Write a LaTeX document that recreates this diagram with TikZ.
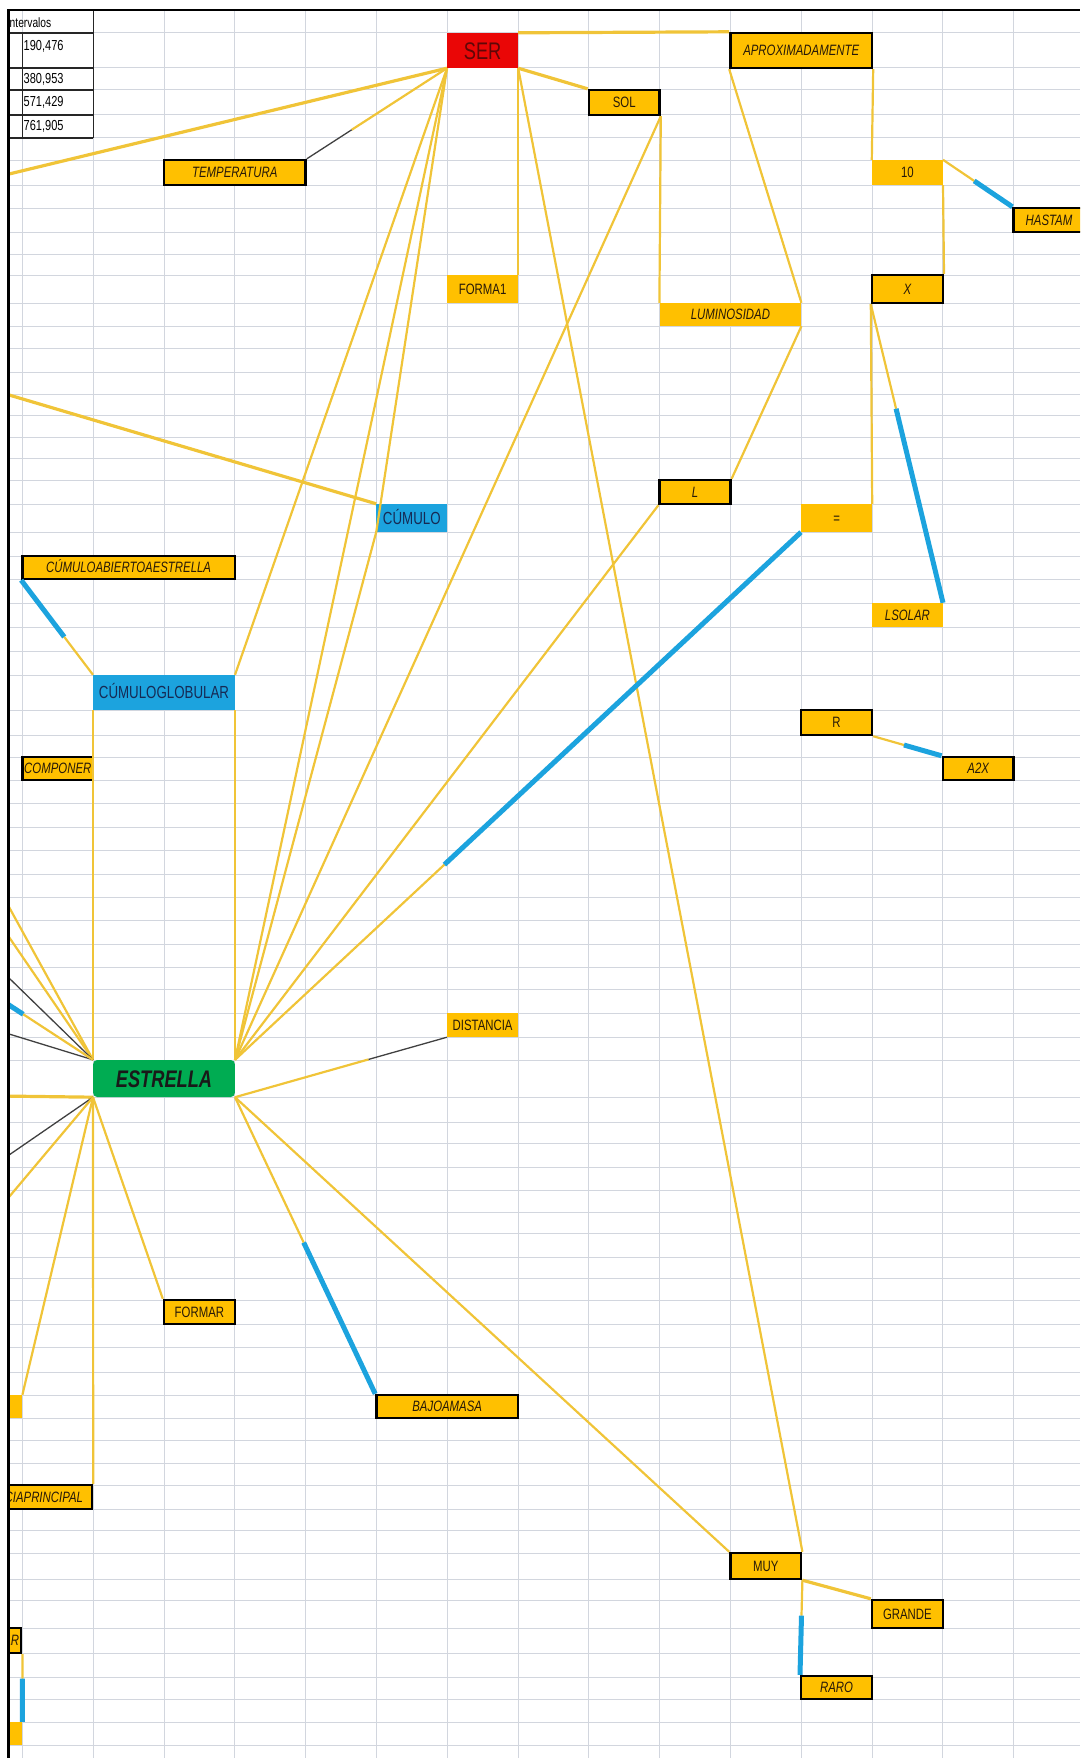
\documentclass[tikz,border=0pt]{standalone}
\usepackage{fontspec}
\setmainfont[FakeStretch=0.76]{Liberation Sans}
\usetikzlibrary{calc}

\definecolor{amarillo}{RGB}{255,192,0}
\definecolor{lineaY}{RGB}{240,196,56}
\definecolor{azul}{RGB}{28,163,222}
\definecolor{verde}{RGB}{0,172,82}
\definecolor{rojo}{RGB}{234,6,6}
\definecolor{rejilla}{RGB}{210,214,222}
\definecolor{tinta}{RGB}{40,26,8}
\definecolor{marino}{RGB}{22,42,84}
\definecolor{granate}{RGB}{96,6,6}

\newcommand{\partida}[5]{%
	\draw[#4] (#1) -- ($(#1)!#3!(#2)$);
	\draw[#5] ($(#1)!#3!(#2)$) -- (#2);
}

\tikzset{
	celda/.style={inner sep=0pt, text=tinta, text height=10.7pt, text depth=0pt,
		font={\fontsize{15}{15}\selectfont}},
	cajaA/.style={celda, fill=amarillo, draw=black, line width=2.4pt},
	cajaB/.style={celda, fill=amarillo},
	cajaC/.style={celda, fill=azul, text=marino, text height=12.5pt,
		font={\fontsize{17.5}{17.5}\selectfont}},
	cajaR/.style={celda, fill=rojo, text=granate, text height=17.2pt,
		font={\fontsize{24}{24}\selectfont}},
	cajaV/.style={celda, fill=verde, rounded corners=4pt, text=black!90, text height=17.2pt,
		font={\fontsize{24}{24}\selectfont\bfseries\itshape}},
	cursiva/.style={font={\fontsize{15}{15}\selectfont\itshape}},
	medida/.style 2 args={minimum width=#1, minimum height=#2},
	tabla/.style={inner sep=0pt, text=black, font={\fontsize{14.5}{14.5}\selectfont}},
	lineA/.style={draw=lineaY, line width=2.2pt},
	lineG/.style={draw=lineaY, line width=3.2pt},
	lineB/.style={draw=azul, line width=5pt},
	lineK/.style={draw=black!75, line width=1.3pt},
}

\begin{document}
\begin{tikzpicture}[x=1pt, y=-1pt]
\useasboundingbox (0,0) rectangle (1080,1758);
\begin{scope}
\clip (9,10) rectangle (1080,1758);
% rejilla de la hoja
\foreach \k in {0,...,14}
	\draw[rejilla, line width=1pt] ({22.4+70.8*\k},10) -- ({22.4+70.8*\k},1758);
\foreach \y in {33,68,90,115,138,160,185,208,232,254,275,303,326,348,372,394,415,437,458,480,504,532,556,579,603,627,651,675,710,735,757,780,803,827,850,874,897,920,944,967,989,1013,1037,1060,1097,1122,1143,1167,1190,1212,1233,1257,1278,1300,1324,1347,1372,1395,1418,1440,1463,1485,1509,1530,1553,1579,1600,1628,1653,1677,1699,1722,1745}
	\draw[rejilla, line width=1pt] (9,\y) -- (1080,\y);

% tabla de intervalos
\draw[black!85, line width=1.4pt] (93.2,10) -- (93.2,138) (22.4,33) -- (22.4,138);
\foreach \y in {33,68,90,115,138}
	\draw[black!85, line width=1.4pt] (9,\y) -- (93.2,\y);
\node[tabla, anchor=west, font={\fontsize{13.5}{13.5}\selectfont}] (int0) at (9.5,23) {ntervalos};
\node[tabla, anchor=west] (int1) at (23.5,46) {190,476};
\node[tabla, anchor=west] (int2) at (23.5,79) {380,953};
\node[tabla, anchor=west] (int3) at (23.5,102.5) {571,429};
\node[tabla, anchor=west] (int4) at (23.5,126.5) {761,905};

% celdas
\node[cajaR, medida={70.8}{35}] (ser) at (482.6,50.5) {SER};
\node[cajaA, cursiva, medida={141.6}{35}] (aprox) at (801.2,50.5) {APROXIMADAMENTE};
\node[cajaA, medida={70.8}{25}] (sol) at (624.2,102.5) {SOL};
\node[cajaA, cursiva, medida={141.6}{25}] (temp) at (234.8,172.5) {TEMPERATURA};
\node[cajaB, medida={70.8}{25}] (diez) at (907.4,172.5) {10};
\node[cajaA, cursiva, medida={70.8}{24}] (hastam) at (1049,220) {HASTAM};
\node[cajaB, medida={70.8}{28}] (forma) at (482.6,289) {FORMA1};
\node[cajaA, cursiva, medida={70.8}{28}] (equis) at (907.4,289) {X};
\node[cajaB, cursiva, medida={141.6}{23}] (lumin) at (730.4,314.5) {LUMINOSIDAD};
\node[cajaA, cursiva, medida={70.8}{24}] (ele) at (695,492) {L};
\node[cajaB, medida={70.8}{28}] (igual) at (836.6,518) {=};
\node[cajaC, medida={70.8}{28}] (cumulo) at (411.8,518) {CÚMULO};
\node[cajaA, cursiva, medida={212.4}{23}] (cae) at (128.6,567.5) {CÚMULOABIERTOAESTRELLA};
\node[cajaB, cursiva, medida={70.8}{24}] (lsolar) at (907.4,615) {LSOLAR};
\node[cajaC, medida={141.6}{35}] (cglob) at (164,692.5) {CÚMULOGLOBULAR};
\node[cajaA, medida={70.8}{25}] (erre) at (836.6,722.5) {R};
\node[cajaA, cursiva, medida={70.8}{23}] (componer) at (57.8,768.5) {COMPONER};
\node[cajaA, cursiva, medida={70.8}{23}] (adosx) at (978.2,768.5) {A2X};
\node[cajaB, medida={70.8}{24}] (dist) at (482.6,1025) {DISTANCIA};
\node[cajaV, medida={141.6}{37}] (estrella) at (164,1078.5) {ESTRELLA};
\node[cajaA, medida={70.8}{24}] (formar) at (199.4,1312) {FORMAR};
\node[cajaA, cursiva, medida={141.6}{23}] (bajo) at (447.2,1406.5) {BAJOAMASA};
\node[cajaB, medida={70.8}{23}, anchor=east] (izqA) at (22.4,1406.5) {};
\node[cajaA, cursiva, anchor=east, minimum height=24, text width=140, align=right, inner xsep=9] (ciap) at (93.2,1497) {CIAPRINCIPAL};
\node[cajaA, medida={70.8}{26}] (muy) at (765.8,1566) {MUY};
\node[cajaA, medida={70.8}{28}] (grande) at (907.4,1614) {GRANDE};
\node[cajaA, cursiva, anchor=east, minimum height=25, text width=60, align=right, inner xsep=2] (ar) at (22.4,1640.5) {AR};
\node[cajaA, cursiva, medida={70.8}{23}] (raro) at (836.6,1687.5) {RARO};
\node[cajaB, medida={70.8}{23}, anchor=east] (izqB) at (22.4,1733.5) {};

% extremos fuera de la hoja
\coordinate (bA) at (0,176.2);
\coordinate (bB) at (0,392.3);
\coordinate (bC1) at (0,890.6);
\coordinate (bC2) at (0,923.9);
\coordinate (bC3) at (0,969.2);
\coordinate (bC4) at (0,999.1);
\coordinate (bC5) at (0,1031.2);
\coordinate (bD1) at (0,1096);
\coordinate (bD2) at (0,1161.2);
\coordinate (bD3) at (0,1207.7);

% conectores
\path (ser.south west) edge[lineG] (bA)
	(ser.south west) edge[lineA] (cglob.north east)
	(ser.south west) edge[lineA] (estrella.north east)
	(ser.south west) edge[lineA] (cumulo.south west)
	(ser.south east) edge[lineA] (forma.north east)
	(ser.south east) edge[lineG] (sol.north west)
	(ser.south east) edge[lineA] (muy.north east)
	(ser.north east) edge[lineG] (aprox.north west);
\partida{ser.south west}{temp.north east}{0.68}{lineA}{lineK}
\path (aprox.south west) edge[lineA] (lumin.north east)
	(aprox.south east) edge[lineA] (diez.north west)
	(diez.south east) edge[lineA] (equis.north east)
	(equis.south west) edge[lineA] (igual.north east)
	(sol.south east) edge[lineA] (lumin.north west)
	(sol.south east) edge[lineA] (estrella.north east)
	(lumin.south east) edge[lineA] (ele.north east)
	(ele.south west) edge[lineA] (estrella.north east);
\partida{diez.north east}{hastam.north west}{0.45}{lineA}{lineB}
\partida{equis.south west}{lsolar.north east}{0.35}{lineA}{lineB}
\partida{estrella.north east}{igual.south west}{0.37}{lineA}{lineB}
\partida{erre.south east}{adosx.north west}{0.45}{lineA}{lineB}
\path (bB) edge[lineG] (cumulo.north west)
	(cumulo.south west) edge[lineA] (estrella.north east)
	(cglob.south west) edge[lineA] (estrella.north west)
	(cglob.south east) edge[lineA] (estrella.north east);
\partida{cae.south west}{cglob.north west}{0.6}{lineB}{lineA}
% hacia ESTRELLA por la izquierda
\path (bC1) edge[lineA] (estrella.north west)
	(bC2) edge[lineA] (estrella.north west)
	(bC3) edge[lineK] (estrella.north west)
	(bC5) edge[lineK] (estrella.north west)
	(bD1) edge[lineG] (estrella.south west)
	(bD2) edge[lineK] (estrella.south west)
	(bD3) edge[lineA] (estrella.south west);
\partida{bC4}{estrella.north west}{0.25}{lineB}{lineA}
\path (estrella.south west) edge[lineA] (izqA.north east)
	(estrella.south west) edge[lineA] (ciap.north east)
	(estrella.south west) edge[lineA] (formar.north west)
	(estrella.south east) edge[lineA] (muy.north west)
	(muy.south east) edge[lineG] (grande.north west);
\partida{estrella.south east}{dist.south west}{0.63}{lineA}{lineK}
\partida{estrella.south east}{bajo.north west}{0.49}{lineA}{lineB}
\partida{muy.south east}{raro.north west}{0.375}{lineA}{lineB}
\partida{ar.south east}{izqB.north east}{0.36}{lineA}{lineB}
\end{scope}
\draw[black, line width=2.4pt] (8.5,1758) -- (8.5,10) -- (1080,10);
\end{tikzpicture}
\end{document}
